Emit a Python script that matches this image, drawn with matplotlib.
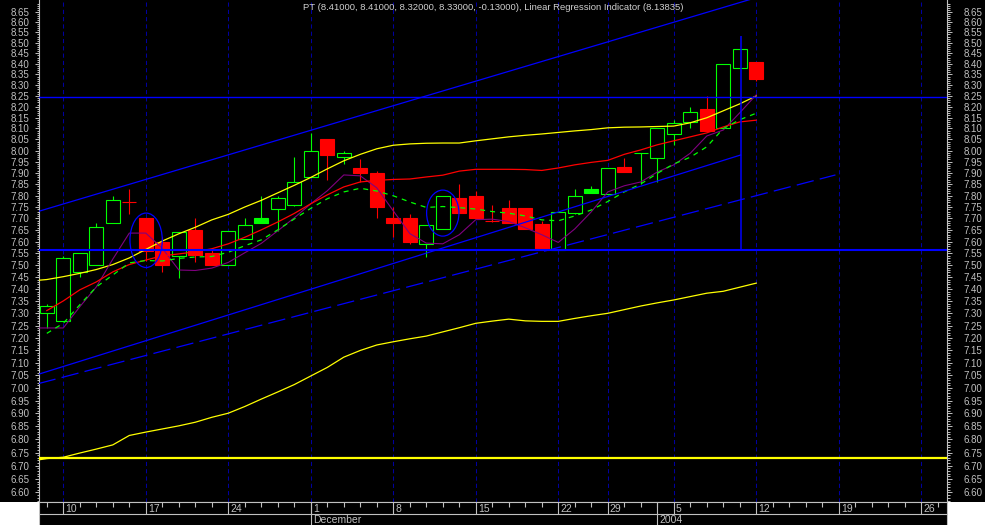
import numpy as np
import matplotlib
matplotlib.use("Agg")
import matplotlib.pyplot as plt
from matplotlib.patches import Rectangle, Ellipse
from matplotlib.ticker import FixedLocator, FixedFormatter, NullFormatter

plt.rcParams['font.family'] = ['Liberation Sans', 'DejaVu Sans']

# daily bars, index 0 = 7 Nov 2003 (trading days only)
opens = [7.30, 7.27, 7.47, 7.50, 7.68, 7.77, 7.70, 7.60, 7.54, 7.65,
         7.55, 7.50, 7.61, 7.70, 7.74, 7.76, 7.88, 8.05, 7.97, 7.92,
         7.90, 7.70, 7.70, 7.59, 7.655, 7.79, 7.80, 7.69, 7.745, 7.745,
         7.675, 7.565, 7.725, 7.83, 7.805, 7.925, 7.99, 7.965, 8.075, 8.13,
         8.19, 8.10, 8.38, 8.41]
highs = [7.34, 7.54, 7.55, 7.68, 7.80, 7.83, 7.70, 7.62, 7.64, 7.70,
         7.565, 7.645, 7.70, 7.80, 7.80, 7.97, 8.08, 8.05, 8.00, 7.96,
         7.91, 7.75, 7.72, 7.67, 7.80, 7.85, 7.82, 7.76, 7.78, 7.745,
         7.69, 7.73, 7.83, 7.84, 7.92, 7.965, 7.99, 8.10, 8.14, 8.20,
         8.25, 8.40, 8.47, 8.41]
lows = [7.24, 7.27, 7.45, 7.50, 7.68, 7.72, 7.52, 7.47, 7.445, 7.515,
        7.50, 7.50, 7.61, 7.68, 7.645, 7.755, 7.88, 7.87, 7.94, 7.86,
        7.70, 7.62, 7.59, 7.535, 7.655, 7.725, 7.70, 7.685, 7.68, 7.655,
        7.565, 7.565, 7.72, 7.81, 7.805, 7.905, 7.85, 7.86, 8.025, 8.10,
        8.09, 8.10, 8.38, 8.32]
closes = [7.33, 7.53, 7.55, 7.665, 7.78, 7.77, 7.56, 7.50, 7.64, 7.545,
          7.50, 7.645, 7.67, 7.68, 7.79, 7.86, 8.00, 7.98, 7.99, 7.90,
          7.75, 7.68, 7.60, 7.67, 7.80, 7.725, 7.70, 7.69, 7.68, 7.655,
          7.565, 7.73, 7.80, 7.81, 7.92, 7.905, 7.99, 8.10, 8.125, 8.175,
          8.09, 8.40, 8.47, 8.33]

# indicators, index -1 .. 43
ma_short = [7.434, 7.44, 7.452, 7.466, 7.482, 7.503, 7.531, 7.567, 7.603, 7.634,
            7.662, 7.694, 7.718, 7.75, 7.779, 7.812, 7.845, 7.88, 7.918, 7.954,
            7.983, 8.008, 8.024, 8.03, 8.033, 8.034, 8.034, 8.044, 8.053, 8.062,
            8.069, 8.075, 8.082, 8.089, 8.095, 8.103, 8.106, 8.107, 8.109, 8.111,
            8.126, 8.149, 8.181, 8.213, 8.25]
ma_purple = [7.24, 7.24, 7.24, 7.327, 7.409, 7.526, 7.637, 7.637, 7.572, 7.48,
             7.478, 7.488, 7.512, 7.553, 7.593, 7.647, 7.703, 7.764, 7.821, 7.891,
             7.887, 7.834, 7.733, 7.635, 7.594, 7.591, 7.63, 7.695, 7.697, 7.687,
             7.66, 7.63, 7.597, 7.655, 7.729, 7.816, 7.843, 7.86, 7.904, 7.936,
             7.988, 8.066, 8.093, 8.172, 8.255]
ma_long = [6.717, 6.727, 6.732, 6.748, 6.763, 6.779, 6.815, 6.828, 6.84, 6.852,
           6.866, 6.885, 6.901, 6.927, 6.956, 6.984, 7.013, 7.047, 7.081, 7.122,
           7.149, 7.171, 7.184, 7.196, 7.207, 7.224, 7.241, 7.259, 7.268, 7.276,
           7.269, 7.267, 7.267, 7.279, 7.29, 7.30, 7.315, 7.33, 7.343, 7.355,
           7.369, 7.383, 7.391, 7.408, 7.425]
# index 0 .. 43
lin_reg = [7.311, 7.351, 7.397, 7.43, 7.472, 7.503, 7.522, 7.54, 7.548, 7.557,
           7.57, 7.591, 7.619, 7.651, 7.685, 7.722, 7.764, 7.803, 7.838, 7.86,
           7.867, 7.871, 7.873, 7.882, 7.89, 7.908, 7.916, 7.916, 7.916, 7.915,
           7.911, 7.922, 7.936, 7.947, 7.956, 7.983, 8.003, 8.026, 8.044, 8.062,
           8.08, 8.107, 8.13, 8.138]
ma_green = [7.218, 7.259, 7.335, 7.409, 7.459, 7.51, 7.52, 7.518, 7.529, 7.535,
            7.537, 7.555, 7.583, 7.608, 7.651, 7.698, 7.744, 7.786, 7.816, 7.832,
            7.82, 7.799, 7.772, 7.748, 7.752, 7.747, 7.741, 7.73, 7.723, 7.711,
            7.694, 7.69, 7.711, 7.737, 7.774, 7.816, 7.851, 7.898, 7.94, 7.97,
            8.017, 8.10, 8.14, 8.17]

# drawn studies: (index, price) end points
trend_upper = ([-0.5, 44.0], [7.731, 8.743])
trend_mid = ([-0.5, 42.05], [7.054, 7.98])
trend_low = ([-0.5, 47.8], [7.017, 7.891])
level_top = 8.244
level_support = 7.565
level_yellow = 6.73
vert_idx, vert_lo, vert_hi = 42.05, 7.565, 8.533
ellipses = [(6.02, 7.607, 1.96, 0.233), (24.0, 7.724, 1.96, 0.20)]

mondays = [1, 6, 11, 16, 21, 26, 31, 34, 38, 43, 48, 53]
monday_labels = ['10', '17', '24', '1', '8', '15', '22', '29', '5', '12', '19', '26']
all_days = list(range(0, 55))
month_starts = [16, 37]
month_labels = ['December', '2004']

title = ("PT (8.41000, 8.41000, 8.32000, 8.33000, -0.13000), "
         "Linear Regression Indicator (8.13835)")

GREEN = '#00ff00'
RED = '#ff0000'
BLUE = '#0000ff'
YELLOW = '#ffff00'
PURPLE = '#800080'
GRID = '#0000a0'
GRAY = '#c0c0c0'

W, H = 985, 525
fig = plt.figure(figsize=(W / 100, H / 100), dpi=100, facecolor='black')
xlim = (-0.473, 54.56)
ylim = (6.5646, 8.7073)

ax = fig.add_axes([39 / W, 23 / H, 908 / W, 502 / H])
ax.set_facecolor('black')
ax.set_yscale('log')
ax.set_xlim(*xlim)
ax.set_ylim(*ylim)

# weekly grid
for m in mondays:
    ax.axvline(m, color=GRID, lw=0.75, linestyle=(0, (4, 3)), zorder=1)

# candles
w = 0.86
for i, (o, h, l, c) in enumerate(zip(opens, highs, lows, closes)):
    prev = closes[i - 1] if i else o
    col = GREEN if c >= prev else RED
    hollow = c > o
    ax.vlines(i, l, h, color=col, lw=0.8, zorder=3)
    lo, hi = min(o, c), max(o, c)
    ax.add_patch(Rectangle((i - w / 2, lo), w, hi - lo,
                           facecolor='black' if hollow else col,
                           edgecolor=col, lw=0.8, zorder=4))

x_ext = np.arange(-1, len(closes))
x_in = np.arange(len(closes))
ax.plot(x_ext, ma_long, color=YELLOW, lw=0.9, zorder=5)
ax.plot(x_ext, ma_short, color=YELLOW, lw=0.9, zorder=5)
ax.plot(x_ext, ma_purple, color=PURPLE, lw=0.8, zorder=5)
ax.plot(x_in, lin_reg, color=RED, lw=0.9, zorder=5)
ax.plot(x_in, ma_green, color=GREEN, lw=0.9, linestyle=(0, (4, 4)), zorder=5)

# drawn lines
ax.plot(*trend_upper, color=BLUE, lw=0.9, zorder=6)
ax.plot(*trend_mid, color=BLUE, lw=0.9, zorder=6)
ax.plot(*trend_low, color=BLUE, lw=0.9, linestyle=(0, (14, 5)), zorder=6)
ax.axhline(level_top, color=BLUE, lw=1.0, zorder=6)
ax.axhline(level_support, color=BLUE, lw=1.5, zorder=6)
ax.axhline(level_yellow, color=YELLOW, lw=1.6, zorder=6)
ax.vlines(vert_idx, vert_lo, vert_hi, color=BLUE, lw=1.1, zorder=6)
for cx, cy, ew, eh in ellipses:
    ax.add_patch(Ellipse((cx, cy), ew, eh, fill=False, edgecolor=BLUE,
                         lw=0.9, zorder=6))

ax.text(0.5, 1 - 7 / 502, title, transform=ax.transAxes, ha='center',
        va='center', color='#d0d0d0', fontsize=6.8)

# price scale on both sides
majors = np.round(np.arange(6.60, 8.651, 0.05), 2)
minors = [v for v in np.round(np.arange(6.57, 8.71, 0.01), 2)
          if not np.isclose((v * 100) % 5, 0) and not np.isclose((v * 100) % 5, 5)]
labels = ['%.2f' % v for v in majors]

ax2 = ax.twinx()
ax2.set_yscale('log')
ax2.set_ylim(*ylim)
ax2.patch.set_visible(False)
for a in (ax, ax2):
    a.yaxis.set_major_locator(FixedLocator(majors))
    a.yaxis.set_major_formatter(FixedFormatter(labels))
    a.yaxis.set_minor_locator(FixedLocator(minors))
    a.yaxis.set_minor_formatter(NullFormatter())
for s in ax2.spines.values():
    s.set_visible(False)
ax.tick_params(axis='y', which='major', left=True, right=False, length=3,
               width=0.7, color=GRAY, labelcolor=GRAY, labelsize=7, pad=4)
ax.tick_params(axis='y', which='minor', left=True, right=False, length=1.5,
               width=0.7, color=GRAY)
ax2.tick_params(axis='y', which='major', right=True, left=False, length=3.6,
                width=0.7, color=GRAY, labelcolor=GRAY, labelsize=7, pad=8.5)
ax2.tick_params(axis='y', which='minor', right=True, left=False, length=2,
                width=0.7, color=GRAY)
ax.tick_params(axis='x', bottom=False, labelbottom=False)
ax2.tick_params(axis='x', bottom=False, labelbottom=False)
ax.spines['top'].set_visible(False)
for k in ('left', 'right', 'bottom'):
    ax.spines[k].set_color(GRAY)
    ax.spines[k].set_linewidth(0.8)

# date strip
axd = fig.add_axes([39 / W, 0, 908 / W, 23 / H])
axd.set_facecolor('black')
axd.set_xlim(*xlim)
axd.set_ylim(0, 23)
axd.set_xticks([])
axd.set_yticks([])
axd.spines['bottom'].set_visible(False)
for k in ('left', 'right', 'top'):
    axd.spines[k].set_color(GRAY)
    axd.spines[k].set_linewidth(0.8)
axd.axhline(11, color=GRAY, lw=0.8)
minor_days = [d for d in all_days if d not in mondays]
axd.vlines(minor_days, 18, 23, color=GRAY, lw=0.8)
axd.vlines(mondays, 11, 23, color=GRAY, lw=0.8)
axd.vlines(month_starts, 0, 23, color=GRAY, lw=0.8)
for m, lbl in zip(mondays, monday_labels):
    axd.annotate(lbl, (m, 16.5), xytext=(1.5, 0), textcoords='offset points',
                 ha='left', va='center', color=GRAY, fontsize=7.5)
for m, lbl in zip(month_starts, month_labels):
    axd.annotate(lbl, (m, 5.2), xytext=(1.5, 0), textcoords='offset points',
                 ha='left', va='center', color=GRAY, fontsize=7.5)

# white corners under the price scales
fig.add_artist(Rectangle((0, 0), 39 / W, 23 / H, transform=fig.transFigure,
                         facecolor='white', edgecolor='none'))
fig.add_artist(Rectangle((948 / W, 0), 1, 23 / H, transform=fig.transFigure,
                         facecolor='white', edgecolor='none'))

fig.savefig('out.png', dpi=100, facecolor='black')
